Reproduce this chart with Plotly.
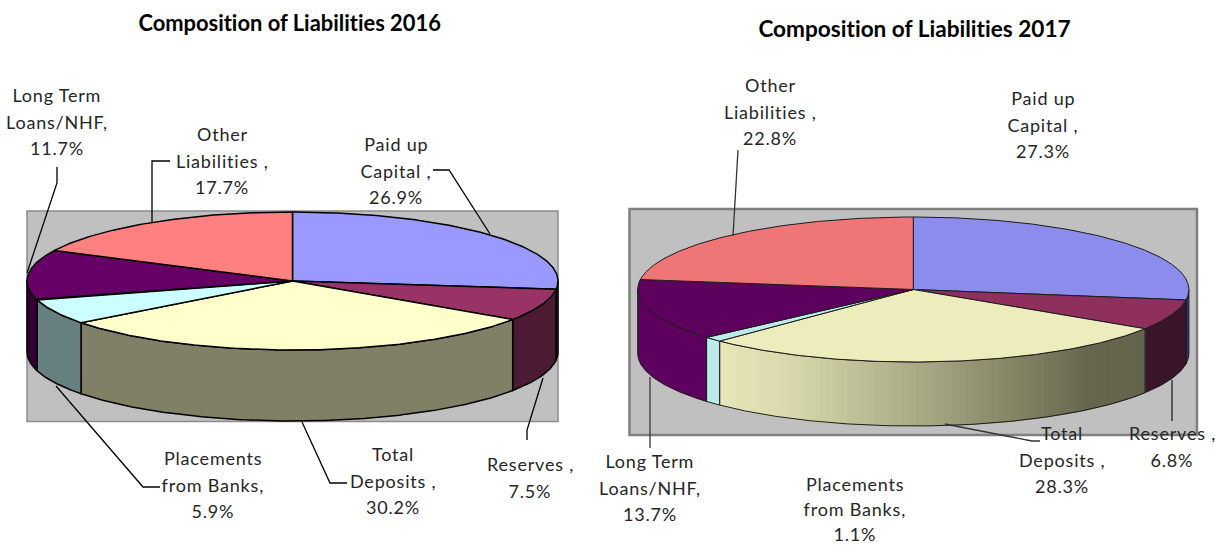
import math
import plotly.graph_objects as go

CATEGORIES = ["Paid up Capital", "Reserves", "Total Deposits",
              "Placements from Banks", "Long Term Loans/NHF", "Other Liabilities"]
VALUES_2016 = [26.9, 7.5, 30.2, 5.9, 11.7, 17.7]
VALUES_2017 = [27.3, 6.8, 28.3, 1.1, 13.7, 22.8]
TITLE_2016 = "Composition of Liabilities 2016"
TITLE_2017 = "Composition of Liabilities 2017"
LABEL_LINES = {
    "Paid up Capital": ["Paid up", "Capital ,"],
    "Reserves": ["Reserves ,"],
    "Total Deposits": ["Total", "Deposits ,"],
    "Placements from Banks": ["Placements", "from Banks,"],
    "Long Term Loans/NHF": ["Long Term", "Loans/NHF,"],
    "Other Liabilities": ["Other", "Liabilities ,"],
}

TOP_2016 = ["#9999FF", "#993366", "#FFFFCC", "#CCFFFF", "#660066", "#FF8080"]
WALL_2016 = ["#30304F", "#4D1A33", "#808066", "#668080", "#330033", "#804040"]
TOP_2017 = ["#8C8CEC", "#8E2F5E", "#ECECBD", "#BDEBEB", "#5E005E", "#EF7676"]
WALL_2017 = ["#2E2E70", "#3A1428", None, "#BDEBEB", "#5E005E", "#804040"]
GRADIENT_STOPS = [(715, (232, 232, 186)), (790, (216, 216, 172)), (920, (169, 169, 133)),
                  (1000, (138, 138, 106)), (1090, (102, 102, 78)), (1150, (100, 100, 76))]

GEOM_2016 = dict(cx=292.5, cy=281, rx=265.5, ry=69, depth=71, line="#000000", lw=1.5)
GEOM_2017 = dict(cx=913.3, cy=289.5, rx=275.6, ry=72.5, depth=64, line="#1c1c1c", lw=1)

LABEL_POS_2016 = {"Long Term Loans/NHF": (57, 95), "Other Liabilities": (222, 134),
                  "Paid up Capital": (396, 144), "Reserves": (530, 464),
                  "Total Deposits": (393, 454), "Placements from Banks": (213, 458)}
LABEL_POS_2017 = {"Other Liabilities": (770, 85), "Paid up Capital": (1043, 98),
                  "Total Deposits": (1062, 433), "Reserves": (1172, 433),
                  "Long Term Loans/NHF": (650, 461), "Placements from Banks": (855, 484)}
LINE_STEP = 26.7
LINE_STEP_BOTTOM = 25.1
LEADERS = [
    ([57, 57, 27], [167, 183, 273], "#000000", 1.3),
    ([170, 152, 152], [161, 161, 222], "#000000", 1.3),
    ([433, 449, 490], [170, 170, 234], "#000000", 1.3),
    ([543, 527, 527], [378, 430, 440], "#000000", 1.3),
    ([302, 330, 347], [422, 483, 483], "#000000", 1.3),
    ([56, 143, 160], [386, 487, 487], "#000000", 1.3),
    ([733, 738], [236, 150], "#333333", 1.3),
    ([650, 650], [377, 448], "#333333", 1.3),
    ([1172, 1172], [380, 421], "#222222", 1.3),
    ([945, 1032, 1040], [424, 441, 441], "#333333", 1.3),
]

fig = go.Figure()


def pt(g, a, drop=0.0):
    return g["cx"] + g["rx"] * math.sin(a), g["cy"] - g["ry"] * math.cos(a) + drop


def arc(g, a0, a1, drop=0.0):
    n = max(2, int(abs(a1 - a0) / 0.01))
    pts = [pt(g, a0 + (a1 - a0) * i / n, drop) for i in range(n + 1)]
    return [p[0] for p in pts], [p[1] for p in pts]


def poly(xs, ys, fill, line, lw, name):
    fig.add_trace(go.Scatter(x=xs, y=ys, mode="lines", fill="toself", fillcolor=fill,
                             line=dict(color=line, width=lw), name=name,
                             hoverinfo="name", showlegend=False))


def gradient_color(x):
    for (x0, c0), (x1, c1) in zip(GRADIENT_STOPS, GRADIENT_STOPS[1:]):
        if x <= x1:
            t = max(0.0, (x - x0) / (x1 - x0))
            return "rgb(%d,%d,%d)" % tuple(round(c0[i] + (c1[i] - c0[i]) * t) for i in range(3))
    return "rgb(%d,%d,%d)" % GRADIENT_STOPS[-1][1]


def wall(g, a0, a1, fill, name, lw=None, line=None):
    xt, yt = arc(g, a0, a1)
    xb, yb = arc(g, a1, a0, g["depth"])
    poly(xt + xb + [xt[0]], yt + yb + [yt[0]], fill, line or g["line"], g["lw"] if lw is None else lw, name)


def draw_pie(values, tops, walls, g):
    total = sum(values)
    edges = [0.0]
    for v in values:
        edges.append(edges[-1] + v / total * 2 * math.pi)
    lo, hi = math.pi / 2, 3 * math.pi / 2
    for i, cat in enumerate(CATEGORIES):
        a0, a1 = max(edges[i], lo), min(edges[i + 1], hi)
        if a1 <= a0:
            continue
        if walls[i] is None:
            n = 70
            for k in range(n):
                s0 = a0 + (a1 - a0) * k / n
                s1 = a0 + (a1 - a0) * (k + 1) / n
                col = gradient_color(pt(g, (s0 + s1) / 2)[0])
                wall(g, s0, s1, col, cat, lw=1, line=col)
            xt, yt = arc(g, a0, a1)
            xb, yb = arc(g, a1, a0, g["depth"])
            fig.add_trace(go.Scatter(x=xt + xb + [xt[0]], y=yt + yb + [yt[0]], mode="lines",
                                     line=dict(color=g["line"], width=g["lw"]),
                                     hoverinfo="skip", showlegend=False))
        else:
            wall(g, a0, a1, walls[i], cat)
    for i, cat in enumerate(CATEGORIES):
        xa, ya = arc(g, edges[i], edges[i + 1])
        poly([g["cx"]] + xa + [g["cx"]], [g["cy"]] + ya + [g["cy"]], tops[i], g["line"], g["lw"], cat)


draw_pie(VALUES_2016, TOP_2016, WALL_2016, GEOM_2016)
draw_pie(VALUES_2017, TOP_2017, WALL_2017, GEOM_2017)

for xs, ys, col, lw in LEADERS:
    fig.add_trace(go.Scatter(x=xs, y=ys, mode="lines", line=dict(color=col, width=lw),
                             hoverinfo="skip", showlegend=False))

shapes = [
    dict(type="rect", layer="below", x0=27, x1=558, y0=211, y1=421.5, xref="x", yref="y",
         fillcolor="#C0C0C0", line=dict(color="#8C8C8C", width=1.5)),
    dict(type="rect", layer="below", x0=629.5, x1=1197, y0=209, y1=435, xref="x", yref="y",
         fillcolor="#C0C0C0", line=dict(color="#7F7F7F", width=2.5)),
]

annotations = []
FONT = "Lato"


def text(x, y, s, size=18, bold=False, color="#262626"):
    annotations.append(dict(x=x, y=y, xref="x", yref="y", text="<b>%s</b>" % s if bold else s,
                            showarrow=False, xanchor="center", yanchor="middle",
                            font=dict(family=FONT, size=size, color=color)))


def labels(values, positions):
    for cat, v in zip(CATEGORIES, values):
        x, y = positions[cat]
        step = LINE_STEP_BOTTOM if y > 480 else LINE_STEP
        lines = LABEL_LINES[cat] + ["%.1f%%" % v]
        for j, ln in enumerate(lines):
            text(x, y + j * step, ln)


labels(VALUES_2016, LABEL_POS_2016)
labels(VALUES_2017, LABEL_POS_2017)
text(289.5, 22.5, TITLE_2016, size=21.9, bold=True, color="#000000")
text(914, 28, TITLE_2017, size=22.6, bold=True, color="#000000")

fig.update_layout(
    width=1215, height=546, margin=dict(l=0, r=0, t=0, b=0),
    paper_bgcolor="#FFFFFF", plot_bgcolor="#FFFFFF", showlegend=False,
    xaxis=dict(range=[0, 1215], visible=False, fixedrange=True),
    yaxis=dict(range=[546, 0], visible=False, fixedrange=True),
    shapes=shapes, annotations=annotations,
)
SPACING_JS = """
document.body.style.margin='0';document.body.style.overflow='hidden';
function spaceLabels(){document.querySelectorAll('.annotation-text').forEach(function(t){
  t.style.fontVariantLigatures='none';
  if(parseFloat(t.style.fontSize)<19){t.style.letterSpacing='0.8px';}
});}
spaceLabels();setTimeout(spaceLabels,0);
"""
fig.write_html("out.html", config={"displayModeBar": False}, post_script=SPACING_JS)
